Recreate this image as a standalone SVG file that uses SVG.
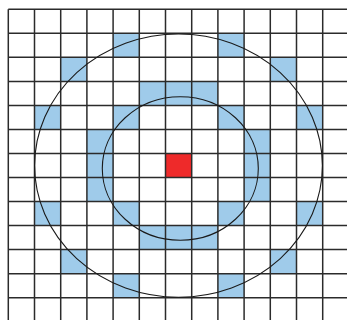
<svg xmlns="http://www.w3.org/2000/svg" width="347" height="320" viewBox="0 0 347 320">
<style>
.b{fill:#9fcbea}
.r{fill:#ee2a2a}
.g line{stroke:#2b2b2b;stroke-width:1.5}
.c{fill:none;stroke:#1a1a1a;stroke-width:1.1}
</style>
<rect width="347" height="320" fill="#ffffff"/>
<g id="cells">
<rect class="b" x="113.1" y="33.33" width="26.2" height="24.03"/>
<rect class="b" x="217.9" y="33.33" width="26.2" height="24.03"/>
<rect class="b" x="60.7" y="57.36" width="26.2" height="24.03"/>
<rect class="b" x="270.3" y="57.36" width="26.2" height="24.03"/>
<rect class="b" x="139.3" y="81.39" width="78.6" height="24.03"/>
<rect class="b" x="34.5" y="105.42" width="26.2" height="24.03"/>
<rect class="b" x="113.1" y="105.42" width="26.2" height="24.03"/>
<rect class="b" x="217.9" y="105.42" width="26.2" height="24.03"/>
<rect class="b" x="296.5" y="105.42" width="26.2" height="24.03"/>
<rect class="b" x="86.9" y="129.45" width="26.2" height="72.09"/>
<rect class="b" x="244.1" y="129.45" width="26.2" height="72.09"/>
<rect class="b" x="34.5" y="201.54" width="26.2" height="24.03"/>
<rect class="b" x="113.1" y="201.54" width="26.2" height="24.03"/>
<rect class="b" x="217.9" y="201.54" width="26.2" height="24.03"/>
<rect class="b" x="296.5" y="201.54" width="26.2" height="24.03"/>
<rect class="b" x="139.3" y="225.57" width="78.6" height="24.03"/>
<rect class="b" x="60.7" y="249.6" width="26.2" height="24.03"/>
<rect class="b" x="270.3" y="249.6" width="26.2" height="24.03"/>
<rect class="b" x="113.1" y="273.63" width="26.2" height="24.03"/>
<rect class="b" x="217.9" y="273.63" width="26.2" height="24.03"/>
<rect class="r" x="165.5" y="153.48" width="26.2" height="24.03"/>
</g>
<g class="g" id="grid">
<line x1="8.3" y1="9.3" x2="8.3" y2="320"/>
<line x1="34.5" y1="9.3" x2="34.5" y2="320"/>
<line x1="60.7" y1="9.3" x2="60.7" y2="320"/>
<line x1="86.9" y1="9.3" x2="86.9" y2="320"/>
<line x1="113.1" y1="9.3" x2="113.1" y2="320"/>
<line x1="139.3" y1="9.3" x2="139.3" y2="320"/>
<line x1="165.5" y1="9.3" x2="165.5" y2="320"/>
<line x1="191.7" y1="9.3" x2="191.7" y2="320"/>
<line x1="217.9" y1="9.3" x2="217.9" y2="320"/>
<line x1="244.1" y1="9.3" x2="244.1" y2="320"/>
<line x1="270.3" y1="9.3" x2="270.3" y2="320"/>
<line x1="296.5" y1="9.3" x2="296.5" y2="320"/>
<line x1="322.7" y1="9.3" x2="322.7" y2="320"/>
<line x1="8.3" y1="9.3" x2="347" y2="9.3"/>
<line x1="8.3" y1="33.33" x2="347" y2="33.33"/>
<line x1="8.3" y1="57.36" x2="347" y2="57.36"/>
<line x1="8.3" y1="81.39" x2="347" y2="81.39"/>
<line x1="8.3" y1="105.42" x2="347" y2="105.42"/>
<line x1="8.3" y1="129.45" x2="347" y2="129.45"/>
<line x1="8.3" y1="153.48" x2="347" y2="153.48"/>
<line x1="8.3" y1="177.51" x2="347" y2="177.51"/>
<line x1="8.3" y1="201.54" x2="347" y2="201.54"/>
<line x1="8.3" y1="225.57" x2="347" y2="225.57"/>
<line x1="8.3" y1="249.6" x2="347" y2="249.6"/>
<line x1="8.3" y1="273.63" x2="347" y2="273.63"/>
<line x1="8.3" y1="297.66" x2="347" y2="297.66"/>
</g>
<g id="circles">
<ellipse class="c" cx="178.5" cy="165.6" rx="143.9" ry="131.6"/>
<ellipse class="c" cx="180.3" cy="168.5" rx="78" ry="71.8"/>
</g>
</svg>
